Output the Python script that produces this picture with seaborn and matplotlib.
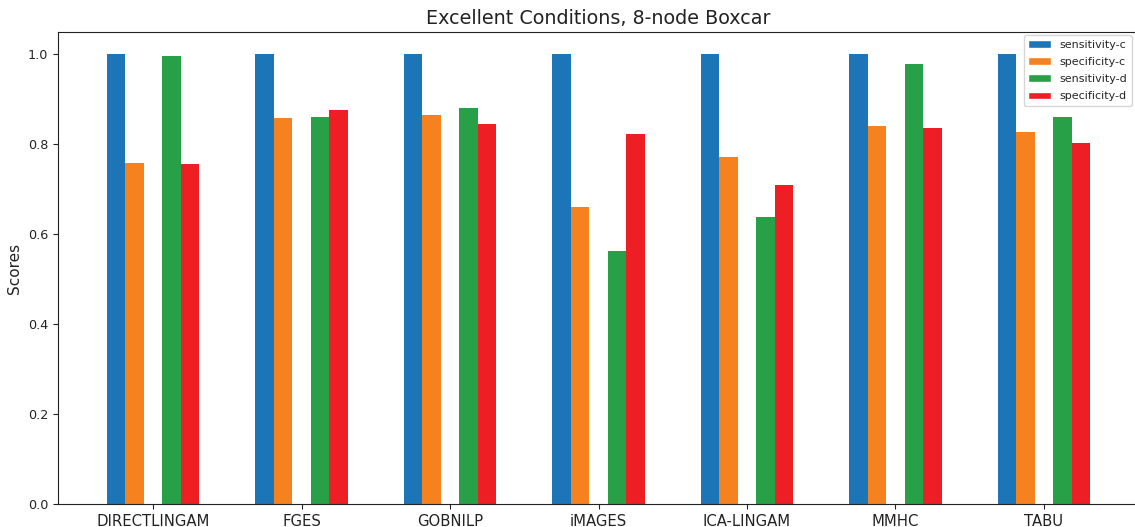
import matplotlib
matplotlib.use("Agg")
import matplotlib.pyplot as plt
from matplotlib.patches import Patch
import seaborn as sns
import pandas as pd

algorithms = ["DIRECTLINGAM", "FGES", "GOBNILP", "iMAGES", "ICA-LINGAM", "MMHC", "TABU"]
sensitivity_c = [1.0, 1.0, 1.0, 1.0, 1.0, 1.0, 1.0]
specificity_c = [0.759, 0.859, 0.866, 0.660, 0.772, 0.842, 0.827]
sensitivity_d = [0.997, 0.862, 0.882, 0.563, 0.638, 0.978, 0.861]
specificity_d = [0.757, 0.877, 0.846, 0.824, 0.710, 0.837, 0.804]

metrics = ["sensitivity-c", "specificity-c", "sensitivity-d", "specificity-d"]
colors = ["#1c75b7", "#f5821f", "#27a048", "#ed1f24"]

series = {
    "sensitivity-c": sensitivity_c,
    "specificity-c": specificity_c,
    "sensitivity-d": sensitivity_d,
    "specificity-d": specificity_d,
}
rows = []
for m, vals in series.items():
    for alg, v in zip(algorithms, vals):
        rows.append({"algorithm": alg, "metric": m, "score": v})
df = pd.DataFrame(rows)

# an empty middle slot separates the c- and d- pairs within each group
hue_order = metrics[:2] + [" "] + metrics[2:]
palette = dict(zip(metrics, colors))
palette[" "] = "white"

sns.set_style("ticks")
plt.rcParams["font.family"] = ["DejaVu Sans"]

fig = plt.figure(figsize=(11.35, 5.27), dpi=100)
ax = fig.add_axes([58 / 1135, 23 / 527, 1081 / 1135, 472 / 527])

sns.barplot(data=df, x="algorithm", y="score", hue="metric", order=algorithms,
            hue_order=hue_order, palette=palette, width=0.625, gap=0,
            saturation=1, errorbar=None, legend=False, linewidth=0, ax=ax)

ax.set_xlim(-0.64, 6.64)
ax.set_ylim(0, 1.05)
ax.set_xlabel("")
ax.set_ylabel("Scores", fontsize=11, color="#222222")
ax.set_title("Excellent Conditions, 8-node Boxcar", fontsize=13.8, color="#222222")
ax.tick_params(axis="x", labelsize=10.7, colors="#222222")
ax.tick_params(axis="y", labelsize=9.2, colors="#222222")
for s in ax.spines.values():
    s.set_visible(True)
    s.set_color("#222222")

handles = [Patch(facecolor=c, label=m) for m, c in zip(metrics, colors)]
ax.legend(handles=handles, loc="upper right", fontsize=8, frameon=True,
          bbox_to_anchor=((1135 - 58) / 1081, 1.0), labelspacing=0.65,
          borderaxespad=0.3)

fig.savefig("out.png", dpi=100)
